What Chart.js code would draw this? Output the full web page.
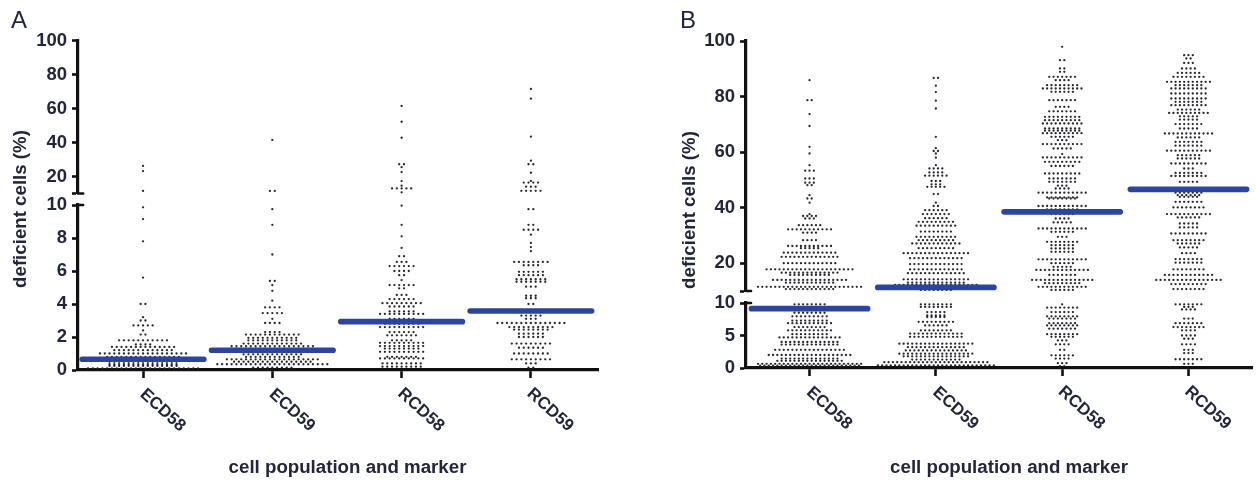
<!DOCTYPE html>
<html lang="en">
<head>
<meta charset="UTF-8">
<title>Deficient cells by population and marker</title>
<script src="https://cdn.jsdelivr.net/npm/chart.js"></script>
<style>
  html, body { margin: 0; background: #fff; overflow: hidden; }
  canvas { position: absolute; top: 0; filter: blur(0.55px); }
  #panelA { left: 0; }
  #panelB { left: 628px; }
</style>
</head>
<body>
<canvas id="panelA" width="628" height="482"></canvas>
<canvas id="panelB" width="628" height="482"></canvas>
<script>
const categories = ['ECD58', 'ECD59', 'RCD58', 'RCD59'];
const xTitle = 'cell population and marker';
const yTitle = 'deficient cells (%)';

// tick labels for the two parts of each broken axis
const aLowTicks = [0, 2, 4, 6, 8, 10];
const aHighTicks = [10, 20, 40, 60, 80, 100];
const bLowTicks = [0, 5, 10];
const bHighTicks = [10, 20, 40, 60, 80, 100];

// mean bars
const aMeans = [0.65, 1.2, 2.93, 3.58];
const bMeans = [9.13, 11.3, 38.5, 46.6];

// swarm rows: value of the row, number of dots in it
const aEcd58Levels = [0.1, 0.25, 0.35, 0.5, 0.65, 0.8, 1.0, 1.2, 1.4, 1.55, 1.8, 2.15, 2.4, 2.7, 3.0, 3.2, 4.0, 5.6, 7.8, 9.15, 9.86, 11.5, 23.2, 26.2];
const aEcd58Counts = [24, 15, 15, 15, 16, 16, 19, 13, 14, 4, 11, 2, 1, 5, 2, 1, 2, 1, 1, 1, 1, 1, 1, 1];

const aEcd59Levels = [0.15, 0.35, 0.5, 0.65, 0.8, 0.95, 1.1, 1.3, 1.45, 1.6, 1.8, 1.95, 2.15, 2.3, 2.85, 3.1, 3.45, 3.8, 4.2, 4.8, 5.15, 5.4, 7.0, 8.8, 9.75, 11.5, 41.5];
const aEcd59Counts = [9, 24, 17, 20, 12, 13, 21, 18, 18, 13, 11, 11, 12, 4, 4, 1, 5, 4, 1, 1, 1, 2, 1, 1, 1, 2, 1];

const aRcd58Levels = [0.2, 0.4, 0.7, 0.8, 1.1, 1.3, 1.45, 1.65, 1.8, 2.1, 2.3, 2.6, 2.8, 3.1, 3.4, 3.55, 3.85, 4.05, 4.3, 4.55, 4.95, 5.15, 5.45, 5.75, 6.0, 6.3, 6.55, 6.9, 7.4, 8.1, 8.8, 9.96, 10.7, 13, 14.6, 17.3, 22.6, 25.5, 27.2, 42.8, 52.2, 61.5];
const aRcd58Counts = [9, 9, 10, 7, 10, 8, 10, 10, 5, 7, 6, 10, 8, 6, 10, 6, 6, 9, 6, 3, 2, 6, 1, 2, 4, 6, 3, 2, 1, 1, 1, 1, 1, 5, 1, 1, 1, 1, 2, 1, 1, 1];

const aRcd59Levels = [0.15, 0.4, 0.65, 1.0, 1.35, 1.6, 2.0, 2.2, 2.45, 2.6, 2.85, 3.1, 3.3, 4.0, 4.35, 4.5, 5.05, 5.35, 5.5, 5.75, 5.95, 6.35, 6.55, 7.2, 7.45, 7.7, 8.2, 8.5, 8.8, 9.75, 11.6, 14, 16.4, 17.4, 22.2, 27.2, 29.3, 43.4, 65.8, 71.5];
const aRcd59Counts = [2, 3, 9, 8, 6, 9, 6, 6, 8, 10, 15, 3, 5, 2, 3, 3, 3, 7, 7, 6, 6, 4, 8, 1, 1, 1, 1, 4, 2, 2, 5, 3, 4, 1, 1, 2, 1, 1, 1, 1];

const bEcd58Levels = [0.35, 0.65, 1.1, 1.45, 2.0, 2.8, 3.6, 4.0, 4.7, 5.2, 5.8, 6.3, 6.9, 7.3, 7.95, 8.5, 9.1, 9.8, 10.7, 11.5, 13, 14, 15.8, 16.6, 17.8, 20, 22.3, 23.8, 25.4, 26.2, 28.3, 31, 32.2, 33.7, 36.1, 37, 37.7, 41.8, 43.3, 44.5, 48.1, 49, 50.5, 53.3, 55.3, 59.5, 61.9, 69.4, 73.7, 78.7, 85.9];
const bEcd58Counts = [24, 25, 16, 14, 20, 17, 14, 14, 15, 9, 11, 8, 11, 9, 9, 8, 8, 8, 12, 25, 12, 18, 10, 14, 21, 13, 14, 13, 5, 11, 4, 4, 11, 6, 3, 4, 1, 1, 2, 1, 2, 3, 3, 3, 1, 1, 1, 1, 1, 2, 1];

const bEcd59Levels = [0.4, 0.9, 1.3, 1.8, 2.2, 2.7, 3.2, 3.75, 4.8, 5.3, 5.8, 6.55, 7.1, 7.85, 8.1, 8.6, 9.4, 9.8, 10.4, 11.3, 12.2, 13, 14.2, 16.4, 17.8, 19.7, 21.8, 23.6, 25.4, 27.1, 28.3, 29.5, 31.4, 33.5, 34.9, 36.2, 37.7, 39.1, 40.6, 41.8, 44.9, 47.5, 48.4, 49.6, 51.5, 52.7, 54.1, 55.3, 58, 59.5, 60.4, 61.4, 65.5, 75.7, 78.5, 81.6, 83.9, 86.7];
const bEcd59Counts = [28, 25, 12, 16, 18, 15, 14, 18, 13, 13, 8, 6, 9, 5, 5, 5, 8, 8, 8, 25, 20, 14, 16, 14, 13, 13, 13, 16, 9, 12, 9, 10, 8, 10, 9, 6, 7, 6, 2, 1, 2, 5, 3, 3, 6, 4, 4, 1, 1, 1, 2, 1, 1, 1, 1, 1, 1, 2];

const bRcd58Levels = [0.3, 0.75, 1.45, 1.95, 2.8, 3.65, 4.25, 4.8, 5.2, 6.05, 6.55, 6.9, 7.6, 7.95, 8.6, 9.3, 9.8, 10.4, 11.5, 12.8, 14, 15.8, 17.6, 18.7, 20, 21.4, 24.1, 25.3, 26.5, 27.7, 29.5, 31.3, 32.5, 34.7, 36.1, 37.7, 38.5, 39.4, 40.6, 43.3, 43.7, 45.4, 46.9, 47.9, 49.3, 50.5, 52.3, 55, 56.5, 58.1, 59.3, 61.3, 62.9, 64.3, 65.5, 66.8, 67.7, 68.5, 70.3, 71.5, 72.7, 74.7, 76.3, 78.7, 81.7, 82.9, 84.1, 85.9, 87.1, 88.9, 90.1, 93.1, 97.9];
const bRcd58Counts = [2, 3, 4, 6, 2, 4, 3, 6, 8, 7, 8, 7, 7, 8, 6, 8, 1, 6, 12, 9, 15, 7, 13, 5, 6, 12, 6, 6, 6, 8, 3, 6, 12, 5, 4, 6, 8, 8, 12, 7, 8, 12, 4, 3, 7, 7, 9, 6, 9, 10, 1, 5, 10, 3, 6, 10, 9, 9, 10, 9, 9, 7, 4, 7, 6, 10, 8, 4, 7, 2, 2, 2, 1];

const bRcd59Levels = [0.65, 1.35, 2.3, 2.8, 3.65, 4.5, 5.0, 5.8, 6.3, 6.9, 7.6, 9.0, 9.4, 9.8, 10.7, 12.5, 14, 15.8, 17.8, 20.2, 21.5, 23.6, 25.7, 27.1, 28.3, 30.7, 32.9, 34.3, 36.5, 37.7, 40.1, 42.1, 43.9, 44.5, 45.4, 46.7, 49.3, 51.4, 52.5, 54.1, 55.9, 57.7, 58.9, 60.5, 62.3, 63.7, 65.3, 66.7, 68.5, 70.1, 71.7, 72.9, 74.1, 75.3, 76.9, 78.1, 79.3, 81.1, 82.9, 84.1, 85.3, 87.1, 88.5, 90.1, 92.1, 93.7, 94.9];
const bRcd59Counts = [3, 7, 3, 3, 4, 3, 4, 4, 8, 7, 3, 4, 3, 7, 8, 9, 16, 12, 8, 7, 7, 4, 5, 6, 8, 9, 5, 5, 6, 11, 8, 7, 5, 6, 7, 12, 5, 9, 7, 3, 9, 6, 6, 11, 7, 7, 6, 12, 5, 7, 5, 5, 10, 6, 9, 7, 9, 9, 9, 7, 11, 8, 6, 4, 3, 2, 3];

const aRows = [[aEcd58Levels, aEcd58Counts], [aEcd59Levels, aEcd59Counts], [aRcd58Levels, aRcd58Counts], [aRcd59Levels, aRcd59Counts]];
const bRows = [[bEcd58Levels, bEcd58Counts], [bEcd59Levels, bEcd59Counts], [bRcd58Levels, bRcd58Counts], [bRcd59Levels, bRcd59Counts]];

const BREAK = 10; // axis break, both parts share this value
const font = 'Liberation Sans, Arial, sans-serif';
const ink = '#23263a';

// letter and axis titles, the y title sits across the break so no scale can hold it
const captions = {
  id: 'captions',
  afterDraw(chart, args, o) {
    const ctx = chart.ctx;
    ctx.save();
    ctx.fillStyle = ink;
    ctx.textBaseline = 'middle';
    ctx.font = '24px ' + font;
    ctx.fillText(o.letter, o.letterX, 21);
    ctx.textAlign = 'center';
    ctx.font = 'bold 18.7px ' + font;
    ctx.fillText(xTitle, o.xTitleX, 468);
    ctx.translate(o.yTitleX, o.yTitleY);
    ctx.rotate(-Math.PI / 2);
    ctx.fillText(yTitle, 0, 0);
    ctx.restore();
  }
};

function tickSet(values) {
  return scale => { scale.ticks = values.map(v => ({ value: v })); };
}

function dotsFor(rows, step) {
  const low = [], high = [];
  rows.forEach(([levels, counts], cat) => {
    levels.forEach((level, r) => {
      for (let i = 0; i < counts[r]; i++) {
        const point = { x: cat + (i - (counts[r] - 1) / 2) * step, y: level };
        (level < BREAK ? low : high).push(point);
      }
    });
  });
  return [low, high];
}

function makePanel(id, cfg) {
  const [low, high] = dotsFor(cfg.rows, cfg.step);
  const dots = (data, axis) => ({
    data, yAxisID: axis, order: 2, showLine: false, clip: false,
    pointRadius: 1.15, pointBorderWidth: 0, pointBackgroundColor: '#26262c'
  });
  const segment = (points, axis, color, width, order) => ({
    data: points, yAxisID: axis, order, showLine: true, clip: false,
    borderColor: color, borderWidth: width, borderCapStyle: 'round', pointRadius: 0
  });
  const bars = cfg.means.map((m, i) => segment(
    [{ x: i - cfg.half, y: m }, { x: i + cfg.half, y: m }],
    m < BREAK ? 'yLow' : 'yHigh', '#2d449f', 5.6, 0));
  const caps = ['yLow', 'yHigh'].map(axis => segment(
    [{ x: cfg.xMin, y: BREAK }, { x: cfg.xMin + cfg.cap, y: BREAK }], axis, '#111', 2.5, 1));

  const yBase = {
    type: 'linear', position: 'left', stack: 'v',
    border: { color: '#111', width: 3.2 },
    grid: { drawOnChartArea: false, tickColor: '#111', tickWidth: 2.6, tickLength: 6 },
    afterFit: s => { s.width = cfg.axisWidth; }
  };
  const labels = { color: ink, font: { family: font, size: 18.5, weight: 'bold' }, padding: 5, autoSkip: false };

  return new Chart(document.getElementById(id), {
    type: 'scatter',
    data: { datasets: [dots(low, 'yLow'), dots(high, 'yHigh'), ...caps, ...bars] },
    plugins: [captions],
    options: {
      responsive: false,
      animation: false,
      layout: { padding: { top: cfg.top, right: cfg.right, left: 0, bottom: 0 } },
      plugins: {
        legend: { display: false },
        tooltip: { enabled: false },
        captions: cfg.captions
      },
      scales: {
        x: {
          type: 'linear', min: cfg.xMin, max: cfg.xMax,
          border: { color: '#111', width: 3.2 },
          grid: { drawOnChartArea: false, tickColor: '#111', tickWidth: 2.6, tickLength: 8 },
          afterBuildTicks: tickSet([0, 1, 2, 3]),
          afterFit: s => { s.height = 482 - cfg.axisY; },
          ticks: {
            callback: v => categories[v],
            color: ink, font: { family: font, size: 17, weight: 'bold' },
            autoSkip: false, minRotation: -42, maxRotation: -42,
            padding: 43, labelOffset: 40
          }
        },
        yLow: {
          ...yBase, min: 0, max: cfg.lowTicks[cfg.lowTicks.length - 1], stackWeight: cfg.lowPx,
          afterBuildTicks: tickSet(cfg.lowTicks),
          ticks: { ...labels }
        },
        yGap: {
          type: 'linear', position: 'left', stack: 'v', stackWeight: cfg.gapPx, min: 0, max: 1,
          border: { display: false }, grid: { display: false }, ticks: { display: false },
          afterFit: s => { s.width = cfg.axisWidth; }
        },
        yHigh: {
          ...yBase, min: BREAK, max: 100, stackWeight: cfg.highPx,
          afterBuildTicks: tickSet(cfg.highTicks),
          ticks: { ...labels, callback: v => (v === BREAK ? '' : String(v)) }
        }
      }
    }
  });
}

makePanel('panelA', {
  rows: aRows, means: aMeans, lowTicks: aLowTicks, highTicks: aHighTicks,
  step: 0.037, half: 0.47, xMin: -0.503, xMax: 3.519, cap: 0.04,
  axisWidth: 78, axisY: 370, top: 40.5, right: 30,
  lowPx: 165, gapPx: 11.5, highPx: 153,
  captions: { letter: 'A', letterX: 11, xTitleX: 347.5, yTitleX: 21, yTitleY: 209 }
});

makePanel('panelB', {
  rows: bRows, means: bMeans, lowTicks: bLowTicks, highTicks: bHighTicks,
  step: 0.034, half: 0.46, xMin: -0.503, xMax: 3.503, cap: 0.04,
  axisWidth: 118, axisY: 368, top: 41, right: 4,
  lowPx: 65, gapPx: 12, highPx: 250,
  captions: { letter: 'B', letterX: 52, xTitleX: 381, yTitleX: 62, yTitleY: 210 }
});
</script>
</body>
</html>
